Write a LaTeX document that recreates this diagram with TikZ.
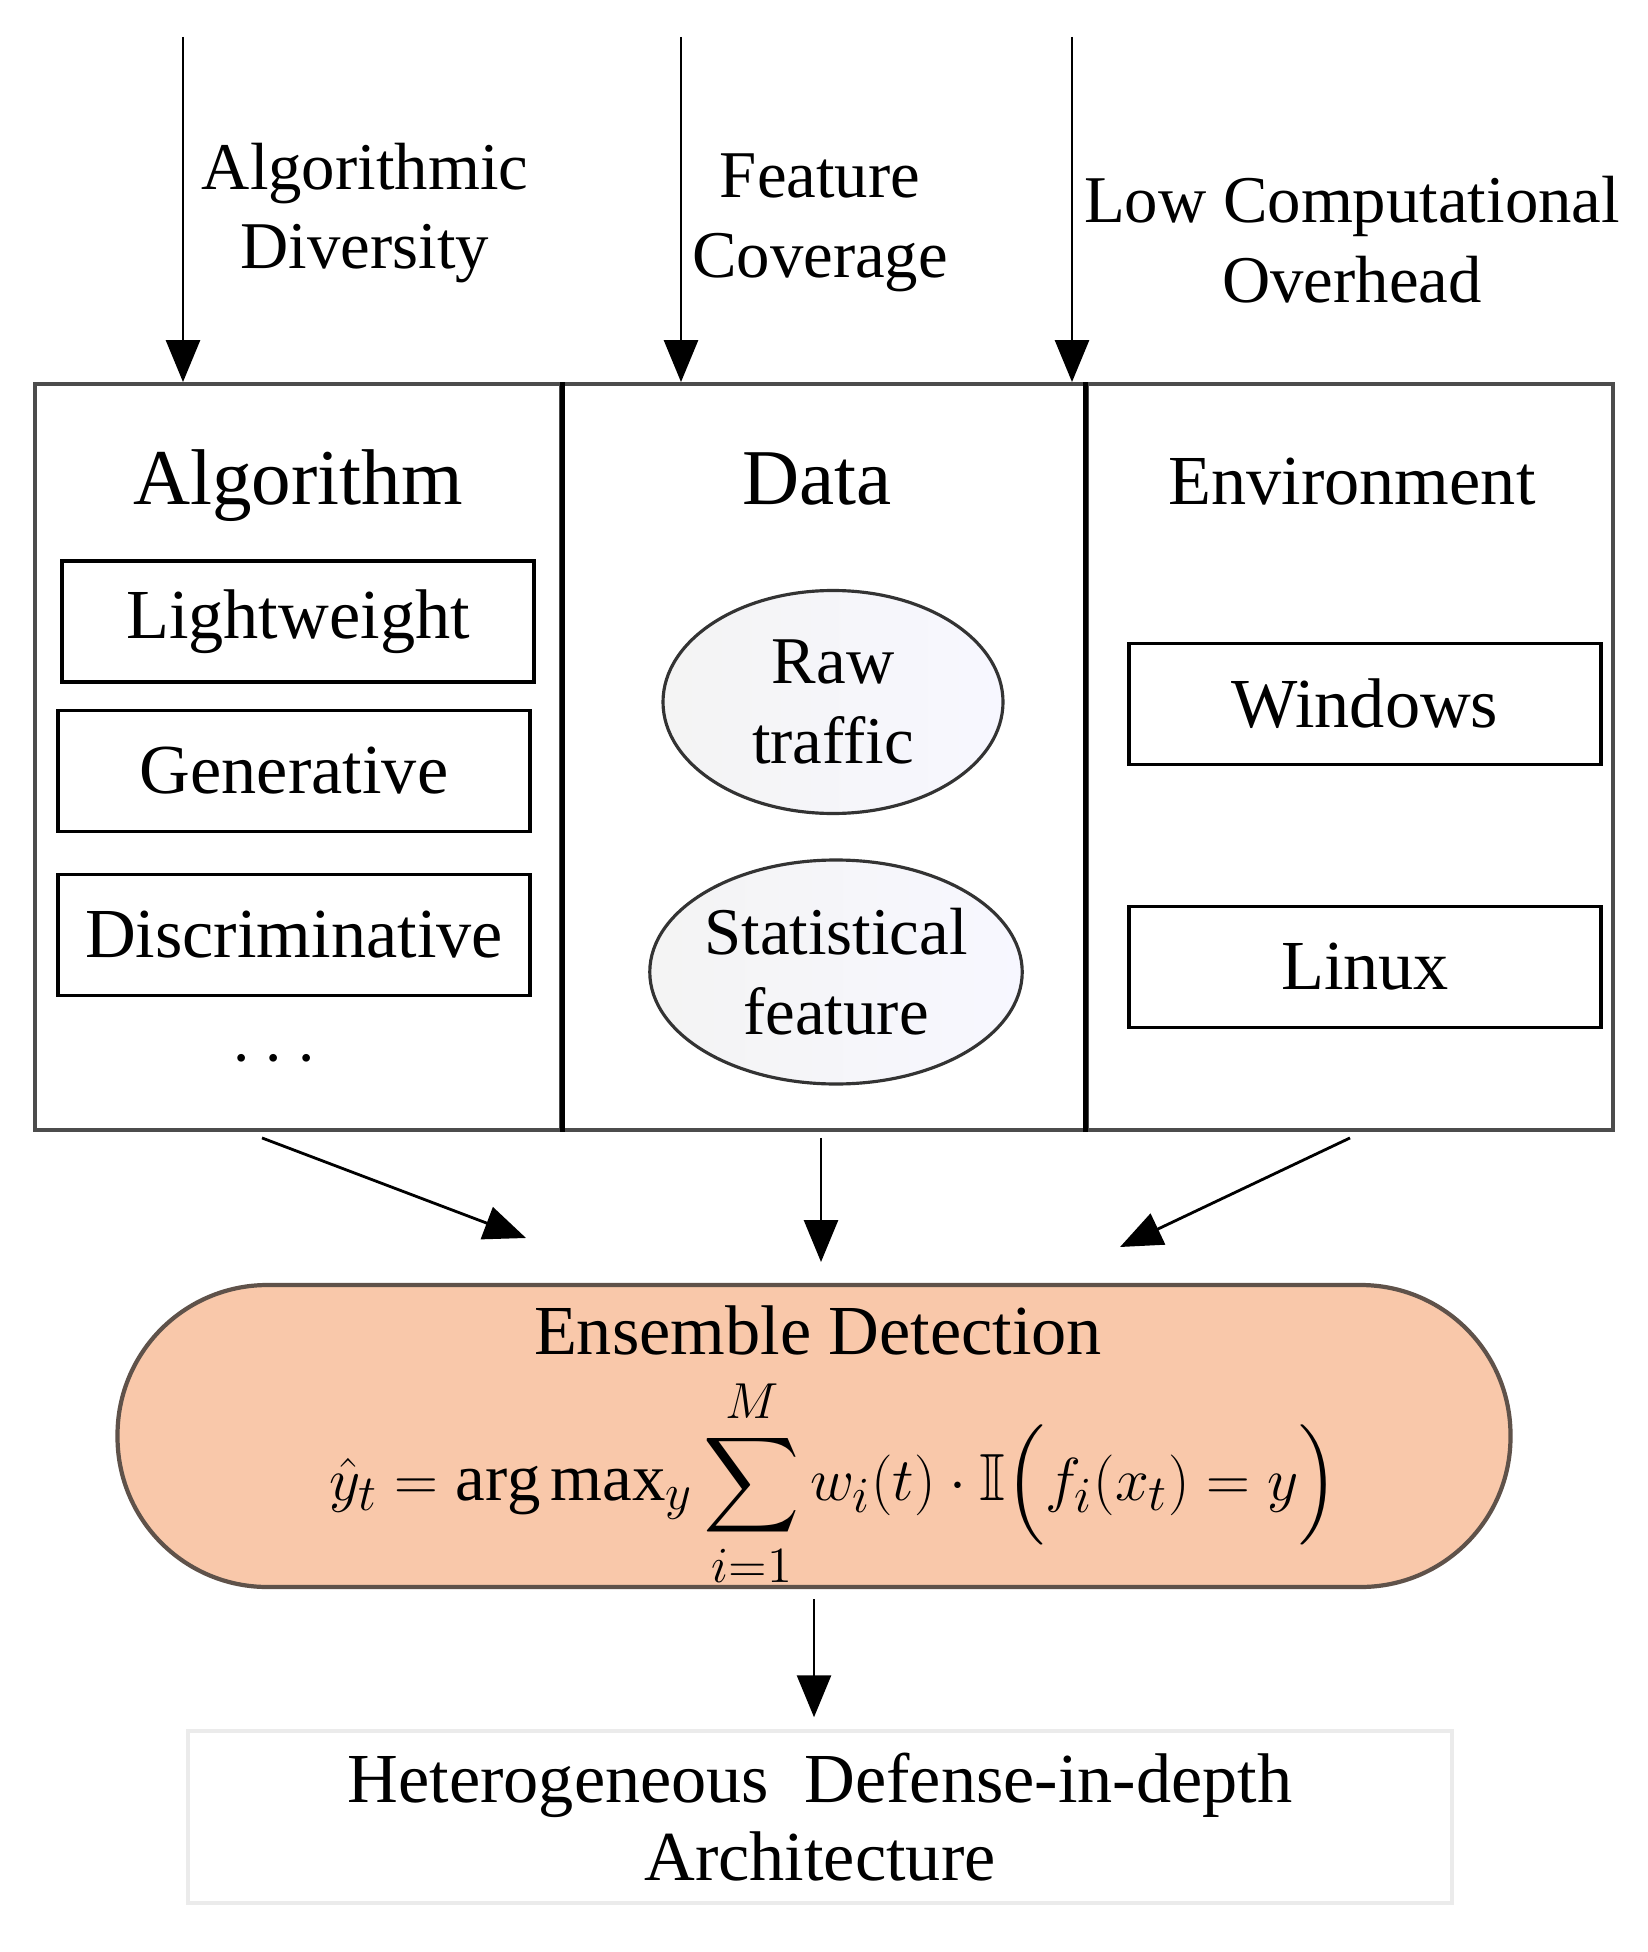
\documentclass[tikz,border=0pt]{standalone}
\usepackage{amsmath}
\usepackage{amssymb}
\usepackage{fontspec}
\setmainfont{Liberation Serif}
\usetikzlibrary{arrows.meta,shapes.geometric}
\definecolor{ensfill}{RGB}{249,200,170}
\definecolor{ensline}{RGB}{95,82,74}

\begin{document}
\begin{tikzpicture}[col/.style={rectangle, draw=black!70, line width=1.1pt, minimum width=5.26cm, minimum height=7.46cm, inner sep=0pt},
	item/.style={rectangle, draw=black, line width=1pt, minimum width=4.72cm, minimum height=1.21cm, font=\fontsize{20}{24}\selectfont},
	oval/.style={ellipse, draw=black!80, line width=0.9pt, left color=gray!9, right color=blue!3!white, align=center, inner sep=0pt, font=\fontsize{19}{22.7}\selectfont},
	head/.style={anchor=base, font=\fontsize{22.5}{27}\selectfont},
	lbl/.style={align=center, font=\fontsize{19}{22.7}\selectfont},
	arr/.style={draw=black, line width=0.8pt, -{Triangle[length=0.42cm, width=0.34cm]}}]
			\useasboundingbox (0,0) rectangle (16.47,-19.52);
			
			\node[lbl] (divlbl) at (3.65,-2.13) {Algorithmic\\Diversity};
			\node[lbl] (covlbl) at (8.20,-2.23) {Feature\\Coverage};
			\node[lbl] (ovhlbl) at (13.52,-2.40) {Low Computational\\Overhead};
			
			\coordinate (s1) at (1.83,-0.37);
			\coordinate (s2) at (6.81,-0.37);
			\coordinate (s3) at (10.72,-0.37);
			
			\node[col] (alg) at (2.98,-7.57) {};
			\node[col] (dat) at (8.24,-7.57) {};
			\node[col] (env) at (13.50,-7.57) {};
			\draw[black, line width=1.4pt] (alg.north east) -- (alg.south east);
			\draw[black, line width=1.4pt] (env.north west) -- (env.south west);
			
			\node[head] (algtitle) at (2.98,-5.05) {Algorithm};
			\node[head] (dattitle) at (8.17,-5.05) {Data};
			\node[head, font=\fontsize{20}{24}\selectfont] (envtitle) at (13.52,-5.05) {Environment};
			
			\node[item] (light) at (2.98,-6.215) {Lightweight};
			\node[item] (gen) at (2.94,-7.71) {Generative};
			\node[item] (disc) at (2.94,-9.35) {Discriminative};
			\node[font=\fontsize{20}{24}\selectfont] (dots) at (2.80,-10.60) {$\cdots$};
			
			\node[oval, minimum width=3.40cm, minimum height=2.23cm] (raw) at (8.33,-7.02) {Raw\\traffic};
			\node[oval, minimum width=3.64cm, minimum height=2.24cm] (stat) at (8.36,-9.72) {Statistical\\feature};
			
			\node[item] (win) at (13.65,-7.04) {Windows};
			\node[item] (lin) at (13.65,-9.67) {Linux};
			
			\node[rectangle, draw=ensline, line width=1.2pt, fill=ensfill, rounded corners=1.5cm, minimum width=13.93cm, minimum height=3.02cm] (ens) at (8.14,-14.36) {};
			\node[inner sep=0pt, font=\fontsize{20}{24}\selectfont] (enstitle) at (8.18,-13.30) {Ensemble Detection};
			\node[inner sep=0pt, font=\fontsize{19}{22}\selectfont] (formula) at (8.34,-14.83) {$\displaystyle \hat{y}_t = \arg\max\nolimits_y \sum_{i=1}^{M} w_i(t)\cdot\mathbb{I}\Bigl(f_i(x_t)=y\Bigr)$};
			
			\node[rectangle, draw=black!8, line width=1pt, minimum width=12.64cm, minimum height=1.72cm, align=center, font=\fontsize{20}{22.4}\selectfont] (arch) at (8.20,-18.17) {Heterogeneous\ \ Defense-in-depth\\Architecture};
			
			\coordinate (e1) at (5.26,-12.38);
			\coordinate (e3) at (11.20,-12.47);
			
			\draw[arr] (s1) -- (s1 |- alg.north);
			\draw[arr] (s2) -- (s2 |- dat.north);
			\draw[arr] (s3) -- (s3 |- env.north);
			\draw[arr] ([xshift=-3.6mm, yshift=-0.6mm]alg.south) -- (e1);
			\draw[arr] ([xshift=-0.3mm, yshift=-0.6mm]dat.south) -- ([xshift=-0.3mm, yshift=-2.4mm]dat.south |- e1);
			\draw[arr] ([yshift=-0.6mm]env.south) -- (e3);
			\draw[arr] ([yshift=-1mm]ens.south) -- ([yshift=1.2mm]ens.south |- arch.north);
\end{tikzpicture}
\end{document}
